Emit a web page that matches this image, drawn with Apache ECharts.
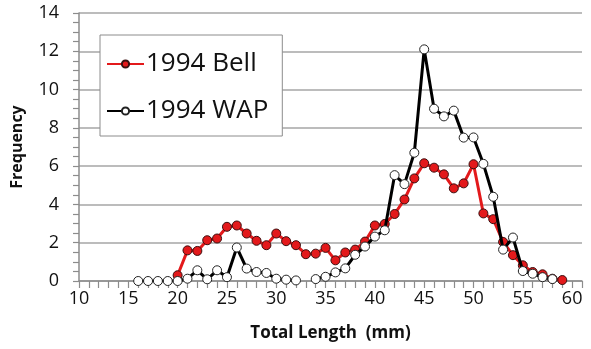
<!DOCTYPE html>
<html>
<head>
<meta charset="utf-8">
<script src="https://cdn.jsdelivr.net/npm/echarts@6/dist/echarts.min.js"></script>
<style>
html,body{margin:0;padding:0;background:#fff;}
#c{width:591px;height:349px;}
</style>
</head>
<body>
<div id="c"></div>
<script>
const bellX = [20,21,22,23,24,25,26,27,28,29,30,31,32,33,34,35,36,37,38,39,40,41,42,43,44,45,46,47,48,49,50,51,52,53,54,55,56,57,58,59];
const bellY = [0.3,1.6,1.57,2.13,2.22,2.83,2.9,2.48,2.1,1.87,2.48,2.08,1.87,1.4,1.43,1.73,1.08,1.49,1.64,2.06,2.9,2.98,3.5,4.26,5.36,6.15,5.92,5.57,4.84,5.1,6.1,3.53,3.23,2.04,1.35,0.82,0.47,0.35,0.12,0.05];
const wapX = [16,17,18,19,20,21,22,23,24,25,26,27,28,29,30,31,32,33,34,35,36,37,38,39,40,41,42,43,44,45,46,47,48,49,50,51,52,53,54,55,56,57,58];
const wapY = [0,0,0,0,0,0.12,0.56,0.09,0.56,0.2,1.75,0.65,0.47,0.42,0.12,0.07,0.03,null,0.1,0.22,0.45,0.66,1.37,1.8,2.32,2.65,5.53,5.06,6.7,12.1,9.0,8.6,8.9,7.49,7.5,6.12,4.4,1.64,2.27,0.52,0.38,0.2,0.1];
const seriesNames = ['1994 Bell','1994 WAP'];
const xTitle = 'Total Length  (mm)';
const yTitle = 'Frequency';

const font = '"Open Sans", sans-serif';
const chart = echarts.init(document.getElementById('c'), null, {renderer:'canvas'});
chart.setOption({
  animation:false,
  backgroundColor:'#fff',
  grid:{left:79,right:9,top:13,bottom:68},
  legend:{
    orient:'vertical', left:100, top:35,
    backgroundColor:'#fff', borderColor:'#8c8c8c', borderWidth:1,
    padding:[16,14,12,6], itemGap:21, itemWidth:37, itemHeight:9,
    textStyle:{fontFamily:font, fontSize:26, color:'#111', padding:[0,0,0,-3]},
    data:seriesNames
  },
  xAxis:{
    type:'value', min:10, max:61, interval:1,
    name:xTitle, nameLocation:'middle', nameGap:44,
    nameTextStyle:{fontFamily:font, fontSize:17, fontWeight:'bold', color:'#111'},
    axisLine:{show:true, lineStyle:{color:'#8c8c8c', width:1.5}},
    axisTick:{show:true, length:7, lineStyle:{color:'#8c8c8c', width:1.2}},
    splitLine:{show:false},
    axisLabel:{fontFamily:font, fontSize:18, color:'#111', margin:9,
      formatter:v => (v % 5 === 0 ? String(v) : '')}
  },
  yAxis:{
    type:'value', min:0, max:14, interval:2,
    name:yTitle, nameLocation:'middle', nameGap:54, nameRotate:90,
    nameTextStyle:{fontFamily:font, fontSize:16, fontWeight:'bold', color:'#111'},
    axisLine:{show:true, lineStyle:{color:'#8c8c8c', width:1.5}},
    axisTick:{show:true, length:6, lineStyle:{color:'#8c8c8c', width:1.2}},
    minorTick:{show:true, splitNumber:4, length:6, lineStyle:{color:'#8c8c8c', width:1.2}},
    splitLine:{show:true, lineStyle:{color:'#a6a6a6', width:1.5}},
    axisLabel:{fontFamily:font, fontSize:18, color:'#111', margin:20}
  },
  series:[
    {
      name:seriesNames[0], type:'line',
      data:bellX.map((x,i)=>[x,bellY[i]]),
      symbol:'circle', symbolSize:9,
      lineStyle:{color:'#e3191b', width:3},
      itemStyle:{color:'#e3191b', borderColor:'#3a1010', borderWidth:1},
      z:2
    },
    {
      name:seriesNames[1], type:'line',
      data:wapX.map((x,i)=>[x,wapY[i]]),
      connectNulls:false,
      symbol:'circle', symbolSize:9,
      lineStyle:{color:'#000', width:3},
      itemStyle:{color:'#fff', borderColor:'#222', borderWidth:1},
      z:3
    }
  ]
});
</script>
</body>
</html>
